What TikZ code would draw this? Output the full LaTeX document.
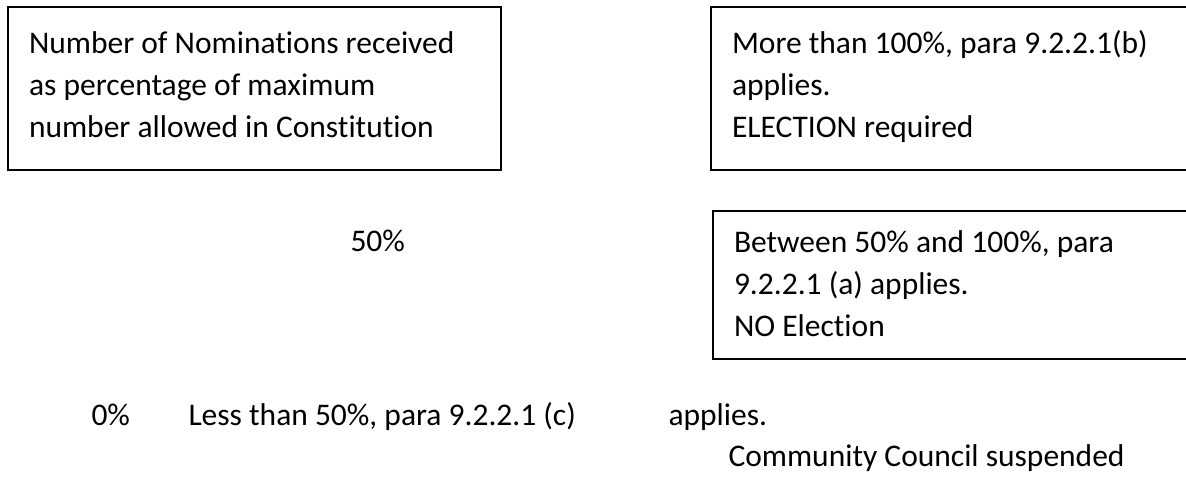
\documentclass[tikz,border=0pt]{standalone}
\usepackage{fontspec}
\setmainfont{Carlito}[Ligatures=NoCommon,WordSpace={1,0,0}]
\begin{document}
\begin{tikzpicture}[x=0.4pt,y=-0.4pt,
	every node/.style={font=\fontsize{12.6}{16.8}\selectfont,inner sep=0pt},
	box/.style={draw,line width=0.8pt,anchor=north west,inner xsep=8.4pt,align=left,
		execute at begin node={\spaceskip=0pt\xspaceskip=0pt}},
	lbl/.style={anchor=base west}]
	\useasboundingbox (0,0) rectangle (1186,478);
	\node[box,text width=180.4pt,text height=18.8pt,text depth=46.4pt] (A) at (7,6) {Number of Nominations received\\as percentage of maximum\\number allowed in Constitution};
	\node[box,text width=183.2pt,text height=18.8pt,text depth=46.4pt] (B) at (710,6) {More than 100\%, para 9.2.2.1(b)\\applies.\\ELECTION required};
	\node[lbl] (C) at (350,252) {50\%};
	\node[box,text width=183.2pt,text height=16.8pt,text depth=42.6pt] (D) at (712,210) {Between 50\% and 100\%, para\\9.2.2.1 (a) applies.\\NO Election};
	\node[lbl] (E) at (91,426) {0\%};
	\node[lbl] (F) at (188,426) {Less than 50\%, para 9.2.2.1 (c)};
	\node[lbl] (G) at (668,426) {applies.};
	\node[lbl] (H) at (728,467) {Community Council suspended};
\end{tikzpicture}
\end{document}
